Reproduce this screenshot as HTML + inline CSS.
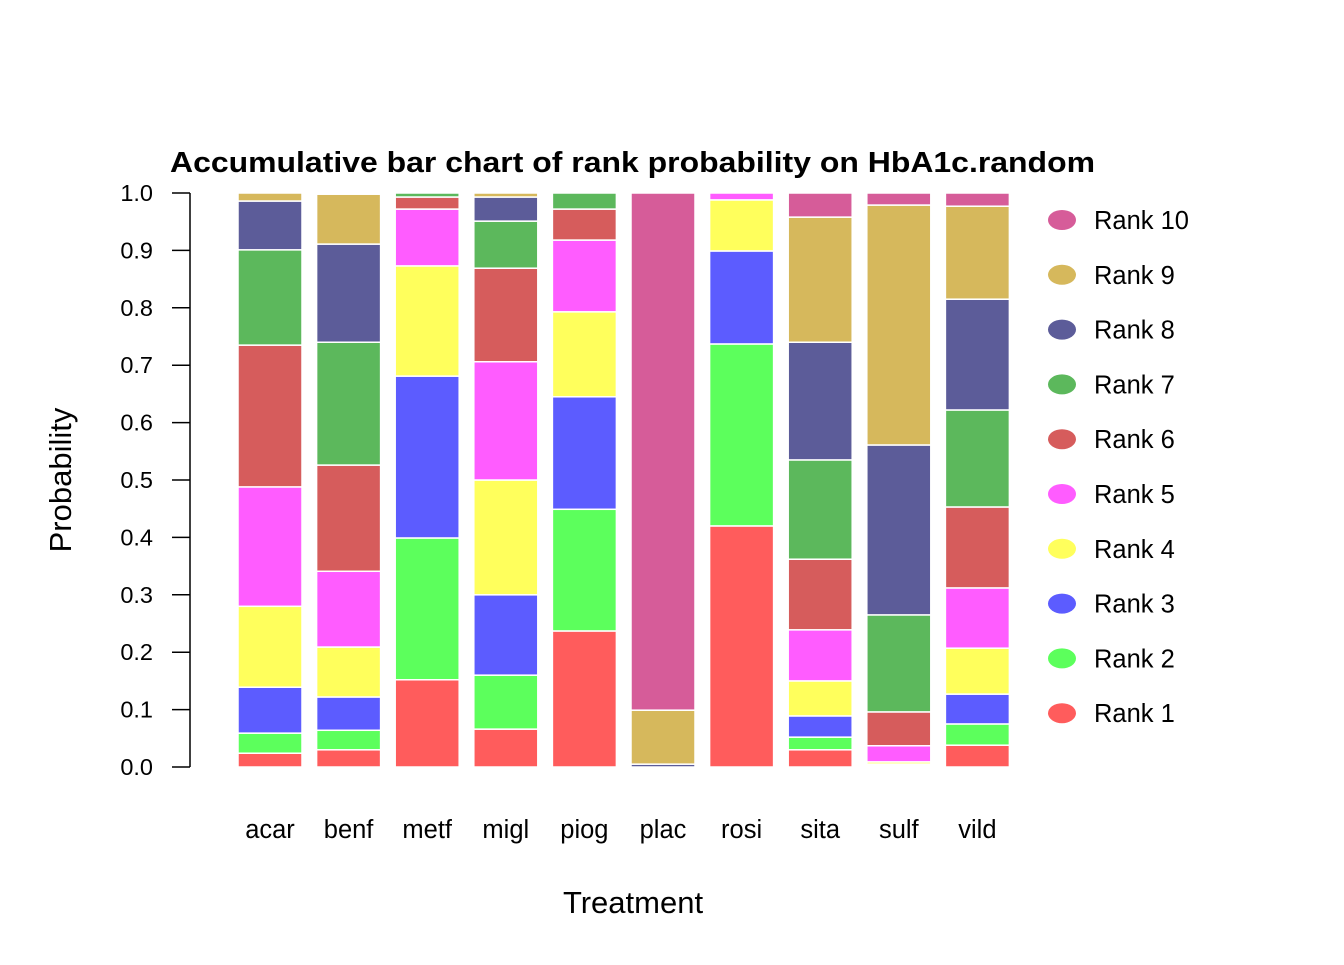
<!DOCTYPE html>
<html><head><meta charset="utf-8"><style>
body{margin:0;background:#fff}
svg text{font-family:"Liberation Sans",Arial,sans-serif;fill:#000}
</style></head><body>
<svg id="chart" width="1344" height="960" xmlns="http://www.w3.org/2000/svg">
<rect width="1344" height="960" fill="#fff"/>
<text x="170" y="172" font-size="29" font-weight="bold" textLength="925" lengthAdjust="spacingAndGlyphs">Accumulative bar chart of rank probability on HbA1c.random</text>
<g id="yaxis"></g>
<g id="bars"></g>
<g id="xlabels"></g>
<g id="legend"></g>
<text x="633" y="913" font-size="31" text-anchor="middle">Treatment</text>
<text transform="translate(71,480) rotate(-90)" font-size="31" text-anchor="middle">Probability</text>
</svg>
<script>
const categories=["acar","benf","metf","migl","piog","plac","rosi","sita","sulf","vild"];
const rankNames=["Rank 1","Rank 2","Rank 3","Rank 4","Rank 5","Rank 6","Rank 7","Rank 8","Rank 9","Rank 10"];
const acar=[.024,.035,.080,.141,.208,.247,.166,.085,.014,0];
const benf=[.030,.034,.058,.087,.132,.185,.214,.171,.087,.002];
const metf=[.152,.247,.282,.192,.099,.021,.007,0,0,0];
const migl=[.066,.094,.140,.200,.206,.163,.082,.042,.007,0];
const piog=[.237,.212,.196,.148,.125,.054,.028,0,0,0];
const plac=[0,0,0,0,0,0,0,.005,.094,.901];
const rosi=[.420,.317,.162,.089,.012,0,0,0,0,0];
const sita=[.030,.022,.037,.061,.089,.123,.173,.205,.218,.042];
const sulf=[.002,.002,.001,.004,.028,.059,.169,.296,.418,.021];
const vild=[.038,.037,.052,.080,.105,.141,.169,.193,.162,.023];
const yTicks=["0.0","0.1","0.2","0.3","0.4","0.5","0.6","0.7","0.8","0.9","1.0"];
const series=[acar,benf,metf,migl,piog,plac,rosi,sita,sulf,vild];
const colors=["#FF5C5C","#5CFF5C","#5C5CFF","#FFFF5C","#FF5CFF","#D65C5C","#5CB85C","#5C5C99","#D6B85C","#D65C99"];
const NS="http://www.w3.org/2000/svg";
const y=v=>767-v*574;
const x=i=>238+i*78.6;
const bw=64;
function mk(t,a,p){const e=document.createElementNS(NS,t);for(const k in a)e.setAttribute(k,a[k]);p.appendChild(e);return e;}
const ya=document.getElementById('yaxis');
const yl=mk('line',{x1:190,x2:190,y1:y(0),y2:y(1),stroke:'#000','stroke-width':1.5},ya);


yTicks.forEach(t=>{const v=parseFloat(t);
 const tk=mk('line',{x1:172,x2:190,y1:y(v),y2:y(v),stroke:'#000','stroke-width':1.5},ya);
 
 
 const tx=mk('text',{x:153,y:y(v)+8,'font-size':23.5,'text-anchor':'end'},ya);tx.textContent=t;
 
 
});
const bg=document.getElementById('bars');
series.forEach((s,i)=>{let c=0;s.forEach((v,r)=>{
 if(v>0){
 const rc=mk('rect',{x:x(i),y:y(c+v),width:bw,height:Math.max(0,y(c)-y(c+v)),fill:colors[r],stroke:'#fff','stroke-width':1.5},bg);
 
 
 }
 c+=v;});
 const t=mk('text',{x:x(i)+bw/2,y:838,'font-size':25.5,'text-anchor':'middle'},document.getElementById('xlabels'));t.textContent=categories[i];
 
 
});
const lg=document.getElementById('legend');
for(let r=9;r>=0;r--){const k=9-r;const cy=220+k*54.8;
 const g=mk('g',{},lg);
 
 
 mk('ellipse',{cx:1062,cy:cy,rx:14,ry:10,fill:colors[r]},g);
 const t=mk('text',{x:1094,y:cy+9,'font-size':25.5},g);t.textContent=rankNames[r];}
</script>
</body></html>
